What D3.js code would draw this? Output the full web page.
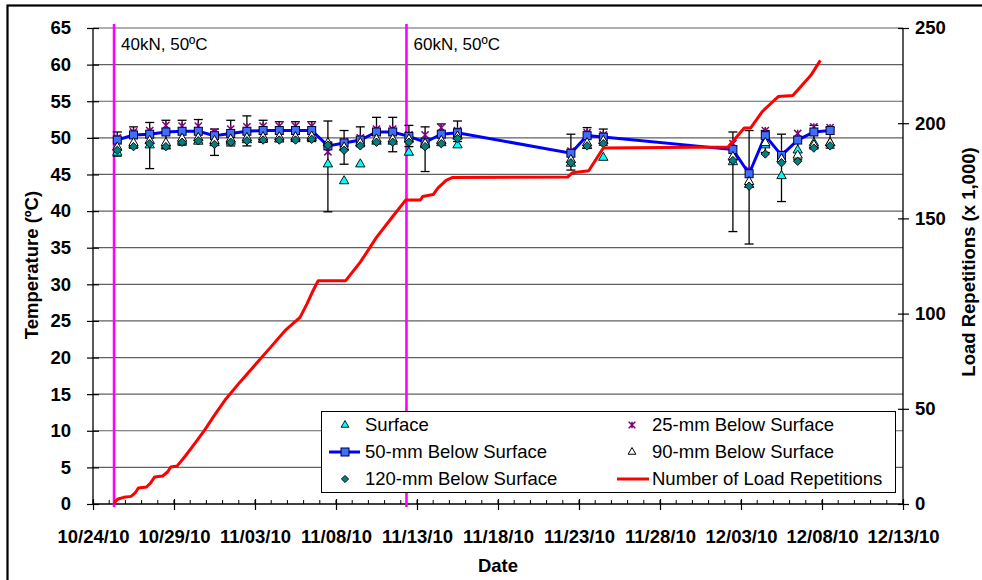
<!DOCTYPE html>
<html><head><meta charset="utf-8">
<script src="https://cdn.jsdelivr.net/npm/d3@7/dist/d3.min.js"></script>
<style>body{margin:0;background:#fff}svg{display:block;font-family:"Liberation Sans",Arial,sans-serif}</style>
</head><body><svg id="c" width="982" height="580"></svg>
<script>
// ---------- data ----------
const dates = ["10/25/10","10/26/10","10/27/10","10/28/10","10/29/10","10/30/10","10/31/10","11/01/10","11/02/10","11/03/10","11/04/10","11/05/10","11/06/10","11/07/10","11/08/10","11/09/10","11/10/10","11/11/10","11/12/10","11/13/10","11/14/10","11/15/10","11/22/10","11/23/10","11/24/10","12/02/10","12/03/10","12/04/10","12/05/10","12/06/10","12/07/10","12/08/10"];
const surface = [48.0,49.0,49.0,48.9,49.5,49.5,49.3,49.5,49.7,49.8,49.8,49.9,50.0,46.4,44.1,46.4,49.5,49.5,48.0,49.0,49.3,49.0,46.5,48.9,47.3,46.7,43.6,49.0,44.8,48.3,49.3,49.3];
const mm25 = [50.0,50.8,51.0,51.7,51.6,51.6,50.8,51.2,51.5,51.6,51.6,51.6,51.6,48.1,49.5,50.0,51.2,51.2,50.4,50.4,51.4,51.0,48.2,50.7,50.4,49.2,45.6,51.0,47.8,50.6,51.5,51.4];
const mm50 = [49.7,50.4,50.5,50.8,50.9,50.9,50.3,50.6,50.9,51.0,51.0,51.0,51.0,48.9,49.3,49.7,50.8,50.8,50.2,49.4,50.5,50.7,47.9,50.3,50.1,48.4,45.1,50.3,47.6,49.7,50.8,51.0];
const mm90 = [48.7,49.3,49.6,49.3,49.9,50.0,49.6,49.8,50.0,50.1,50.1,50.1,50.2,49.3,48.7,49.3,49.8,49.8,49.8,49.2,49.6,50.2,47.0,49.3,49.6,47.4,44.0,49.3,47.1,47.6,49.0,49.3];
const mm120 = [48.3,48.8,49.2,48.8,49.4,49.6,49.1,49.4,49.6,49.7,49.7,49.7,49.8,49.0,48.3,48.9,49.4,49.4,49.4,48.8,49.2,49.9,46.6,48.9,49.2,46.9,43.4,47.8,46.6,46.8,48.6,48.9];
const errHigh = [50.8,51.5,52.1,52.4,52.4,52.5,51.2,52.4,53.0,52.4,52.2,52.2,52.2,52.3,51.0,51.5,52.8,52.8,51.7,51.5,51.9,52.3,50.5,51.4,51.2,50.8,51.0,51.0,50.5,50.0,51.7,51.4];
const errLow = [47.5,48.6,45.8,48.5,49.0,49.3,47.6,48.9,48.9,49.4,49.5,49.5,49.5,39.9,46.4,48.8,49.3,48.1,48.8,45.4,49.3,49.5,45.6,48.6,49.0,37.2,35.5,48.0,41.3,47.0,48.5,48.6];
// load repetitions (x 1,000) vs elapsed days since 10/24/10
const loadDays = [1.30,1.40,1.55,1.90,2.35,2.60,2.80,3.30,3.55,3.80,4.30,4.60,4.80,5.20,5.70,6.30,6.90,7.50,8.15,9.07,10.0,10.93,11.85,12.78,13.2,13.58,13.9,15.6,16.5,17.5,18.5,19.3,20.2,20.35,21.0,21.3,21.8,22.2,29.3,29.6,30.6,31.5,39.2,40.2,40.6,41.3,42.3,43.2,44.3,44.9];
const loadValues = [0,1.6,2.6,3.5,4.0,5.8,8.4,8.9,11,14.2,14.7,16.8,19.4,20,25.2,32,38.9,46.7,54.6,64,73,82,91,98,105,112,117.3,117.3,127,140,151,159.6,159.6,161.5,162.5,166,170,171.5,171.7,174,175,187,187.5,197.5,197.5,206,214,214.5,225,233];
const loadChangeDays = [1.30,19.35];
const loadChangeLabels = ["40kN, 50ºC","60kN, 50ºC"];
const xTickLabels = ["10/24/10","10/29/10","11/03/10","11/08/10","11/13/10","11/18/10","11/23/10","11/28/10","12/03/10","12/08/10","12/13/10"];
const yTicks = [0,5,10,15,20,25,30,35,40,45,50,55,60,65];
const y2Ticks = [0,50,100,150,200,250];

// ---------- setup ----------
const parse = d3.utcParse("%m/%d/%y");
const start = parse(xTickLabels[0]);
const dayToDate = d => new Date(start.getTime() + d*86400000);
const ptDate = s => d3.utcHour.offset(parse(s), 12);
const L = 93, R = 903, T = 28, B = 504;
const x = d3.scaleUtc().domain([start, parse(xTickLabels[xTickLabels.length-1])]).range([L, R]);
const y = d3.scaleLinear().domain([0,65]).range([B, T]);
const y2 = d3.scaleLinear().domain([0,250]).range([B, T]);
const svg = d3.select("#c");
const F = '"Liberation Sans",Arial,sans-serif';

svg.append("rect").attr("width",982).attr("height",580).attr("fill","#fff");
svg.append("rect").attr("x",7.5).attr("y",5.5).attr("width",1000).attr("height",600)
  .attr("fill","none").attr("stroke","#000").attr("stroke-width",2.2);

// gridlines
svg.append("g").selectAll("line").data(yTicks.filter(v=>v>0)).join("line")
  .attr("x1",L).attr("x2",R).attr("y1",d=>y(d)).attr("y2",d=>y(d))
  .attr("stroke","#606060").attr("stroke-width",1.2);

// axes
const gl = svg.append("g").attr("transform",`translate(${L},0)`)
  .call(d3.axisLeft(y).tickValues(yTicks).tickSize(6).tickSizeInner(6).tickPadding(16));
gl.selectAll(".tick line").attr("x2",6).attr("x1",-6);
const gr = svg.append("g").attr("transform",`translate(${R},0)`)
  .call(d3.axisRight(y2).tickValues(y2Ticks).tickSize(6).tickPadding(6));
gr.selectAll(".tick line").attr("x1",-5).attr("x2",6);
const minor = d3.utcDay.range(x.domain()[0], d3.utcDay.offset(x.domain()[1],1));
svg.append("g").selectAll("line").data(minor).join("line")
  .attr("x1",d=>x(d)).attr("x2",d=>x(d)).attr("y1",B-4).attr("y2",B)
  .attr("stroke","#000").attr("stroke-width",1);
const gb = svg.append("g").attr("transform",`translate(0,${B})`)
  .call(d3.axisBottom(x).tickValues(xTickLabels.map(parse)).tickFormat(d3.utcFormat("%m/%d/%y")).tickSize(6).tickPadding(16));
gb.selectAll(".tick line").attr("y1",-5).attr("y2",6);
[gl,gr,gb].forEach(g=>{
  g.selectAll(".domain").attr("stroke","#000").attr("stroke-width",1.3);
  g.selectAll(".tick line").attr("stroke","#000").attr("stroke-width",1.2);
  g.selectAll("text").attr("font-family",F).attr("font-weight","bold").attr("font-size",18.5).attr("fill","#000");
});
gl.select(".domain").attr("d",`M0,${T}V${B}`);
gr.select(".domain").attr("d",`M0,${T}V${B}`);
gb.select(".domain").attr("d",`M${L},0H${R}`);
gb.selectAll("text").attr("dy","0.9em");

// axis titles
svg.append("text").attr("transform","translate(38,265) rotate(-90)").attr("text-anchor","middle")
  .attr("font-weight","bold").attr("font-size",18.5).text("Temperature (ºC)");
svg.append("text").attr("transform","translate(975,262) rotate(-90)").attr("text-anchor","middle")
  .attr("font-weight","bold").attr("font-size",18.5).text("Load Repetitions (x 1,000)");
svg.append("text").attr("x",498).attr("y",572).attr("text-anchor","middle")
  .attr("font-weight","bold").attr("font-size",18.5).text("Date");

// magenta load-change lines
loadChangeDays.forEach((d,i)=>{
  const xx = x(dayToDate(d));
  svg.append("line").attr("x1",xx).attr("x2",xx).attr("y1",T-4).attr("y2",B+3)
    .attr("stroke","#ff00ff").attr("stroke-width",2.6);
  svg.append("text").attr("x",xx+7).attr("y",50).attr("font-size",17).text(loadChangeLabels[i]);
});

const pts = dates.map(ptDate);
// error bars
const eb = svg.append("g").attr("stroke","#000").attr("stroke-width",1.3);
pts.forEach((d,i)=>{
  const xx = x(d);
  eb.append("line").attr("x1",xx).attr("x2",xx).attr("y1",y(errHigh[i])).attr("y2",y(errLow[i]));
  eb.append("line").attr("x1",xx-4.5).attr("x2",xx+4.5).attr("y1",y(errHigh[i])).attr("y2",y(errHigh[i]));
  eb.append("line").attr("x1",xx-4.5).attr("x2",xx+4.5).attr("y1",y(errLow[i])).attr("y2",y(errLow[i]));
});

const tri = d3.symbol().type(d3.symbolTriangle).size(38)();
const dia = (s)=>`M0,${-s}L${s},0L0,${s}L${-s},0Z`;
function asterisk(g,s){
  g.append("path").attr("d",`M${-s},${-s}L${s},${s}M${-s},${s}L${s},${-s}M0,${-s}V${s}`)
    .attr("stroke","#800080").attr("stroke-width",1.5).attr("fill","none");
}
// surface
svg.append("g").selectAll("path").data(surface).join("path")
  .attr("transform",(v,i)=>`translate(${x(pts[i])},${y(v)})`).attr("d",tri)
  .attr("fill","#00ffff").attr("stroke","#000").attr("stroke-width",0.9);
// 25 mm
mm25.forEach((v,i)=>{
  asterisk(svg.append("g").attr("transform",`translate(${x(pts[i])},${y(v)})`),3.6);
});
// 50 mm
svg.append("path").datum(mm50).attr("fill","none").attr("stroke","#0000ff").attr("stroke-width",3)
  .attr("d",d3.line().x((v,i)=>x(pts[i])).y(v=>y(v)));
svg.append("g").selectAll("rect").data(mm50).join("rect")
  .attr("x",(v,i)=>x(pts[i])-4).attr("y",v=>y(v)-4).attr("width",8).attr("height",8)
  .attr("fill","#3f6fff").attr("stroke","#000033").attr("stroke-width",1);
// 90 mm
svg.append("g").selectAll("path").data(mm90).join("path")
  .attr("transform",(v,i)=>`translate(${x(pts[i])},${y(v)})`).attr("d",tri)
  .attr("fill","#fff").attr("stroke","#000").attr("stroke-width",1);
// 120 mm
svg.append("g").selectAll("path").data(mm120).join("path")
  .attr("transform",(v,i)=>`translate(${x(pts[i])},${y(v)})`).attr("d",dia(4.2))
  .attr("fill","#008080").attr("stroke","#000").attr("stroke-width",0.9);

// load repetitions
svg.append("path").datum(loadDays).attr("fill","none").attr("stroke","#ff0000").attr("stroke-width",3)
  .attr("stroke-linejoin","round")
  .attr("d",d3.line().x(d=>x(dayToDate(d))).y((d,i)=>y2(loadValues[i])));

// legend
const lg = svg.append("g");
lg.append("rect").attr("x",321.5).attr("y",411.5).attr("width",574).attr("height",81)
  .attr("fill","#fff").attr("stroke","#000").attr("stroke-width",1);
const rowY = [425,452,479];
const lt = (xx,yy,t)=>lg.append("text").attr("x",xx).attr("y",yy).attr("dy","0.35em").attr("font-size",18.5).text(t);
lg.append("path").attr("transform",`translate(345,${rowY[0]})`).attr("d",d3.symbol().type(d3.symbolTriangle).size(26)())
  .attr("fill","#00ffff").attr("stroke","#000").attr("stroke-width",0.9);
lt(365,rowY[0],"Surface");
lg.append("line").attr("x1",329).attr("x2",360).attr("y1",rowY[1]).attr("y2",rowY[1]).attr("stroke","#0000ff").attr("stroke-width",3);
lg.append("rect").attr("x",341).attr("y",rowY[1]-4).attr("width",8).attr("height",8).attr("fill","#3f6fff").attr("stroke","#000033");
lt(365,rowY[1],"50-mm Below Surface");
lg.append("path").attr("transform",`translate(345,${rowY[2]})`).attr("d",dia(3.6))
  .attr("fill","#008080").attr("stroke","#000").attr("stroke-width",0.9);
lt(365,rowY[2],"120-mm Below Surface");
asterisk(lg.append("g").attr("transform",`translate(632,${rowY[0]})`),3.3);
lt(652,rowY[0],"25-mm Below Surface");
lg.append("path").attr("transform",`translate(632,${rowY[1]})`).attr("d",d3.symbol().type(d3.symbolTriangle).size(26)())
  .attr("fill","#fff").attr("stroke","#000").attr("stroke-width",1);
lt(652,rowY[1],"90-mm Below Surface");
lg.append("line").attr("x1",617).attr("x2",649).attr("y1",rowY[2]).attr("y2",rowY[2]).attr("stroke","#ff0000").attr("stroke-width",3);
lt(652,rowY[2],"Number of Load Repetitions");
</script></body></html>
